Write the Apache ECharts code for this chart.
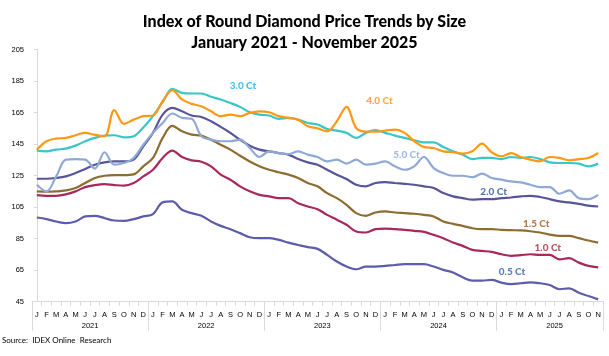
<!DOCTYPE html>
<html><head><meta charset="utf-8">
<script src="https://cdn.jsdelivr.net/npm/echarts@6/dist/echarts.min.js"></script>
<style>html,body{margin:0;padding:0;background:#fff}#c{width:609px;height:356px}</style>
</head><body><div id="c"></div>
<script>
const monthLetters = ['J','F','M','A','M','J','J','A','S','O','N','D'];
const years = ['2021','2022','2023','2024','2025'];
const monthsPerYear = [12,12,12,12,11];
const yTicks = [45,65,85,105,125,145,165,185,205];

const ct05 = [98.4,97.4,95.9,94.8,95.9,99.1,99.5,98.0,96.5,96.3,97.4,99.1,100.6,108.0,108.6,103.3,101.2,99.5,95.9,93.1,91.0,88.5,85.9,85.3,85.3,84.2,82.5,81.0,79.6,78.5,74.7,70.5,67.3,65.6,67.3,67.3,67.7,68.3,68.8,68.8,68.8,67.3,65.2,63.5,60.5,58.4,58.4,58.8,57.1,56.2,56.7,57.3,56.7,55.6,52.9,53.5,50.7,48.6,46.5];
const ct10 = [112.6,112.2,112.2,113.1,115.0,117.7,119.0,119.6,119.0,118.6,120.3,124.5,128.7,136.2,140.8,136.8,134.7,133.8,130.9,125.6,122.4,118.2,115.0,112.8,111.8,110.7,110.7,107.5,105.4,103.7,100.1,97.0,93.8,89.5,88.9,91.0,91.4,91.0,90.6,89.9,89.3,87.4,85.3,82.5,80.4,77.9,77.2,76.6,75.1,74.1,74.5,75.1,74.7,74.7,71.9,72.6,69.8,67.7,66.8];
const ct15 = [115.0,114.8,115.0,115.6,117.1,120.3,123.5,124.9,125.3,125.3,125.8,130.9,136.2,148.9,156.5,153.1,151.0,150.4,147.8,144.6,141.5,137.6,134.0,130.9,128.7,127.1,125.6,123.5,120.3,118.2,113.9,110.7,106.5,101.2,99.5,101.6,102.3,101.6,101.2,100.8,100.1,99.1,95.9,94.4,93.1,91.6,91.0,91.0,90.6,90.4,90.2,89.7,88.9,87.6,86.8,86.8,85.3,83.8,82.5];
const ct20 = [123.0,123.0,123.5,124.5,126.6,129.2,131.9,133.4,134.0,134.0,135.1,143.6,152.1,163.7,168.0,165.8,163.1,162.2,159.5,155.9,152.1,147.8,144.0,141.5,140.4,139.3,138.3,135.5,133.4,131.9,128.7,125.6,122.8,119.2,118.2,120.3,120.9,120.3,119.8,119.2,118.2,117.1,113.9,111.8,110.7,109.7,110.1,110.1,110.7,111.1,111.8,112.2,111.4,110.1,108.6,108.0,107.1,105.9,105.4];
const ct30 = [140.8,140.4,141.5,142.1,144.0,146.8,148.9,150.4,150.6,149.3,150.0,155.5,162.7,171.6,180.0,177.5,177.1,177.1,175.0,173.3,171.1,168.6,165.2,163.7,163.1,161.0,161.6,160.5,158.4,157.4,154.6,153.5,152.1,148.9,152.1,153.8,152.1,150.4,148.9,147.4,146.1,146.1,143.2,140.4,138.3,135.5,136.2,136.2,135.5,136.8,136.2,136.8,135.5,133.4,133.0,133.0,132.6,130.9,132.6];
const ct40 = [141.4,146.8,148.5,148.9,150.6,152.1,150.8,150.0,166.5,157.8,160.5,162.7,163.1,172.2,179.2,173.3,170.5,169.0,165.8,162.7,163.7,162.7,164.8,165.8,165.2,162.7,161.6,160.5,156.3,155.0,153.1,159.5,168.6,155.2,152.9,152.9,153.5,154.2,152.1,146.8,143.2,142.5,140.4,139.8,138.9,140.4,145.3,139.8,137.2,139.3,136.8,135.1,134.0,136.8,136.2,134.7,135.5,136.2,139.3];
const ct50 = [119.2,115.0,124.5,135.1,135.5,135.1,129.4,139.8,131.9,133.0,136.2,144.6,152.1,158.4,164.4,161.6,161.0,150.0,147.8,146.8,146.8,147.8,142.5,136.8,140.4,139.3,138.7,140.4,138.3,136.8,134.0,135.1,132.6,135.1,131.9,132.6,134.0,130.9,128.7,130.9,136.8,129.8,126.6,124.9,124.9,124.0,126.2,123.5,122.4,121.3,120.7,119.2,117.7,117.7,113.5,115.6,110.7,110.1,112.8];

const seriesNames = ['0.5 Ct','1.0 Ct','1.5 Ct','2.0 Ct','3.0 Ct','4.0 Ct','5.0 Ct'];
const seriesValues = [ct05, ct10, ct15, ct20, ct30, ct40, ct50];

// build categories
const categories = [];
years.forEach((y, yi) => {
  for (let m = 0; m < monthsPerYear[yi]; m++) categories.push(monthLetters[m] + ' ' + y);
});
const N = categories.length;

const lineColors = ['#5C5DAA','#A8285C','#8D6C30','#57559A','#38C6C8','#FF9914','#8FA8D6'];
const textColors = ['#3460A6','#A5263F','#A3561C','#2F5597','#1FAFE6','#F7941D','#8EA9DB'];
// label anchors in data space: [category position, value]
const labelAnchors = [[49.1,64.1],[52.8,79.3],[51.6,94.4],[47.2,115],[21.3,181.7],[35.4,172.2],[38.2,138.3]];

const chart = echarts.init(document.getElementById('c'), null, {renderer:'canvas'});
const axisGray = '#D9D9D9';
const labelFont = 'Liberation Sans';

const option = {
  animation: false,
  backgroundColor: '#fff',
  title: {
    text: 'Index of Round Diamond Price Trends by Size\nJanuary 2021 - November 2025',
    left: 'center', top: 6,
    textStyle: {fontFamily: 'Lato', fontWeight: 900, fontSize: 16, lineHeight: 21, color: '#000'}
  },
  graphic: [{
    type: 'text', left: 2, top: 336,
    style: {text: 'Source:  IDEX Online  Research', font: '8px Lato', fill: '#000'}
  }],
  grid: {left: 32, right: 6, top: 49.5, bottom: 54.3, containLabel: false},
  xAxis: [
    {
      type: 'category', data: categories, boundaryGap: true,
      axisLine: {show: true, lineStyle: {color: axisGray, width: 1}},
      axisTick: {show: true, length: 4, lineStyle: {color: axisGray}},
      axisLabel: {interval: 0, margin: 9, fontSize: 7.5, fontFamily: labelFont, color: '#000',
        formatter: v => v.charAt(0)},
      splitLine: {show: false}
    },
    {
      type: 'category', data: categories, boundaryGap: true, position: 'bottom',
      axisLine: {show: false},
      axisTick: {show: true, length: 29, interval: (i) => i % 12 === 0, lineStyle: {color: axisGray}},
      axisLabel: {show: false}, splitLine: {show: false}
    },
    {
      type: 'value', min: -0.5, max: N - 0.5, interval: 0.5, position: 'bottom',
      axisLine: {show: false}, axisTick: {show: false}, splitLine: {show: false},
      axisLabel: {show: true, margin: 20, fontSize: 7.5, fontFamily: labelFont, color: '#000',
        showMinLabel: true, showMaxLabel: true,
        formatter: v => {
          for (let yi = 0; yi < years.length; yi++) {
            if (Math.abs(v - (yi * 12 + 5.5)) < 0.01) return years[yi];
          }
          return '';
        }}
    }
  ],
  yAxis: {
    type: 'value', min: 45, max: 205,
    axisLine: {show: true, lineStyle: {color: axisGray}},
    axisTick: {show: true, length: 3, customValues: yTicks, lineStyle: {color: axisGray}},
    axisLabel: {fontSize: 7.5, fontFamily: labelFont, color: '#000', margin: 8, customValues: yTicks},
    splitLine: {show: false}
  },
  series: seriesValues.map((vals, k) => ({
    name: seriesNames[k], type: 'line', xAxisIndex: 0, yAxisIndex: 0,
    data: vals, smooth: 0.35, symbol: 'none',
    lineStyle: {color: lineColors[k], width: 2.2}, z: 2 + k
  })).concat([{
    type: 'scatter', xAxisIndex: 2, yAxisIndex: 0, symbolSize: 0, z: 20,
    data: labelAnchors.map((p, k) => ({
      value: p, name: seriesNames[k],
      label: {show: true, position: 'inside', formatter: seriesNames[k],
        color: textColors[k], fontFamily: 'Lato', fontWeight: 900, fontSize: 10}
    }))
  }])
};
chart.setOption(option);
</script></body></html>
